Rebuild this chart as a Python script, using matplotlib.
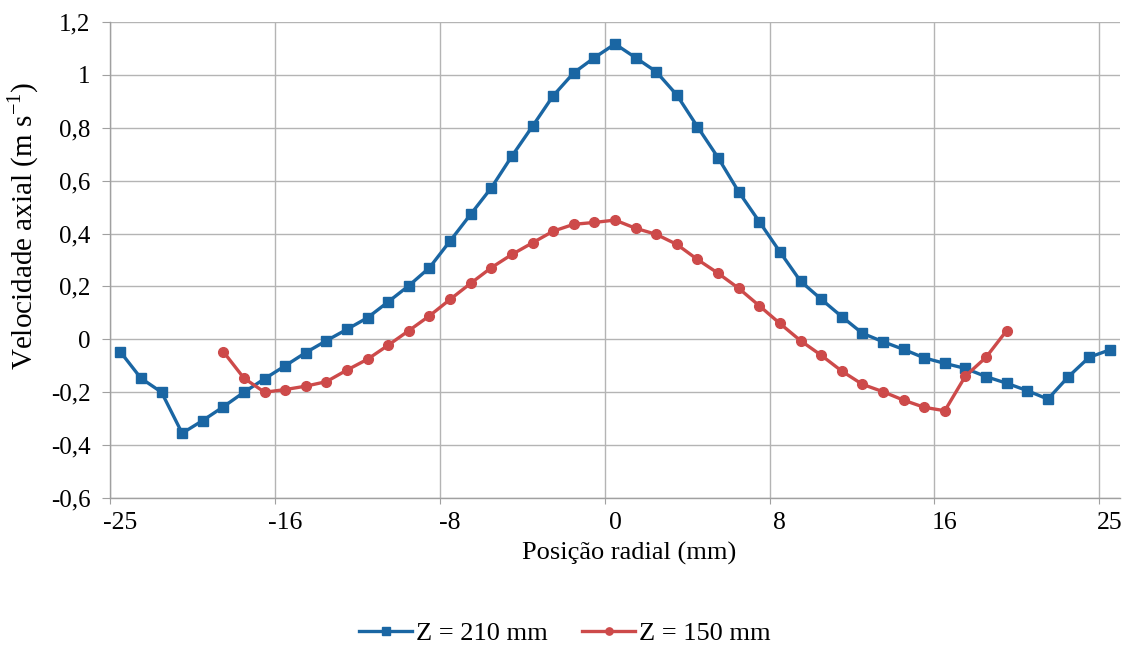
import numpy as np
import matplotlib
matplotlib.use("Agg")
import matplotlib.pyplot as plt

# ---- data ----
x_tick_labels = ["-25", "-16", "-8", "0", "8", "16", "25"]
y_tick_values = [-0.6, -0.4, -0.2, 0, 0.2, 0.4, 0.6, 0.8, 1.0, 1.2]
y_tick_labels = ["-0,6", "-0,4", "-0,2", "0", "0,2", "0,4", "0,6", "0,8", "1", "1,2"]

# Z = 210 mm : 49 categories (index 0..48)
z210 = [-0.047, -0.147, -0.20, -0.355, -0.307, -0.255, -0.20, -0.149, -0.10, -0.05,
        -0.005, 0.038, 0.082, 0.142, 0.203, 0.271, 0.372, 0.473, 0.573, 0.693,
        0.806, 0.921, 1.008, 1.065, 1.117, 1.065, 1.012, 0.924, 0.804, 0.687,
        0.558, 0.445, 0.331, 0.220, 0.152, 0.086, 0.023, -0.009, -0.038, -0.07,
        -0.091, -0.11, -0.141, -0.166, -0.194, -0.226, -0.141, -0.068, -0.04]

# Z = 150 mm : categories 5..43
z150_start = 5
z150 = [-0.047, -0.147, -0.20, -0.19, -0.177, -0.16, -0.116, -0.075, -0.022, 0.033,
        0.089, 0.151, 0.212, 0.271, 0.321, 0.365, 0.409, 0.435, 0.442, 0.451,
        0.42, 0.397, 0.359, 0.302, 0.25, 0.193, 0.127, 0.06, -0.005, -0.06,
        -0.12, -0.17, -0.198, -0.23, -0.257, -0.27, -0.139, -0.068, 0.033]

labels = ["Z = 210 mm", "Z = 150 mm"]
colors = ["#1a66a3", "#cd4a4a"]

# ---- plot ----
plt.rcParams["font.family"] = ["Liberation Serif", "DejaVu Serif"]
plt.rcParams["mathtext.fontset"] = "custom"
plt.rcParams["mathtext.rm"] = "Liberation Serif"

fig = plt.figure(figsize=(11.27, 6.49), dpi=100)
ax = fig.add_axes([110 / 1127, 1 - 498 / 649, 1010 / 1127, 476 / 649])

n_cat = len(z210)
x210 = np.arange(n_cat) + 0.5
x150 = np.arange(z150_start, z150_start + len(z150)) + 0.5

ax.plot(x210, z210, color=colors[0], lw=2.4, marker="s", ms=7.0,
        label=labels[0], zorder=3)
ax.plot(x150, z150, color=colors[1], lw=2.4, marker="o", ms=7.0,
        label=labels[1], zorder=3)

ax.set_xlim(0, n_cat)
ax.set_ylim(-0.6, 1.2)

# category axis: gridlines between categories, labels every 8 categories
grid_pos = np.arange(0, n_cat, 8)
ax.set_xticks(grid_pos)
ax.set_xticklabels([])
ax.set_xticks(grid_pos + 0.5, minor=True)
ax.set_xticklabels(x_tick_labels, minor=True)
ax.tick_params(axis="x", which="minor", length=0, labelsize=18.5, pad=10)
ax.tick_params(axis="x", which="major", length=4, color="#a0a0a0")

ax.set_yticks(y_tick_values)
ax.set_yticklabels(y_tick_labels)
ax.tick_params(axis="y", length=6, color="#a0a0a0", labelsize=18, pad=8)

ax.grid(True, which="major", color="#b4b4b4", lw=1.0)
ax.set_axisbelow(True)
for side in ["top", "right"]:
    ax.spines[side].set_visible(False)
for side in ["left", "bottom"]:
    ax.spines[side].set_color("#a0a0a0")
    ax.spines[side].set_linewidth(1.0)

ax.set_xlabel("Posição radial (mm)", fontsize=19)
ax.xaxis.set_label_coords((629 - 110) / 1010, -(565 - 498) / 476)
ax.xaxis.label.set_va("bottom")
ax.set_ylabel("Velocidade axial (m s$^{\\mathregular{-1}}$)", fontsize=21)
ax.yaxis.set_label_coords((41 - 110) / 1010, (498 - 226) / 476)

fig.legend(loc="center", bbox_to_anchor=(565 / 1127, 1 - 633 / 649), ncol=2,
           frameon=False, fontsize=19, handlelength=2.0, columnspacing=1.3,
           handletextpad=0.15, markerscale=0.75)

fig.savefig("out.png", dpi=100)
